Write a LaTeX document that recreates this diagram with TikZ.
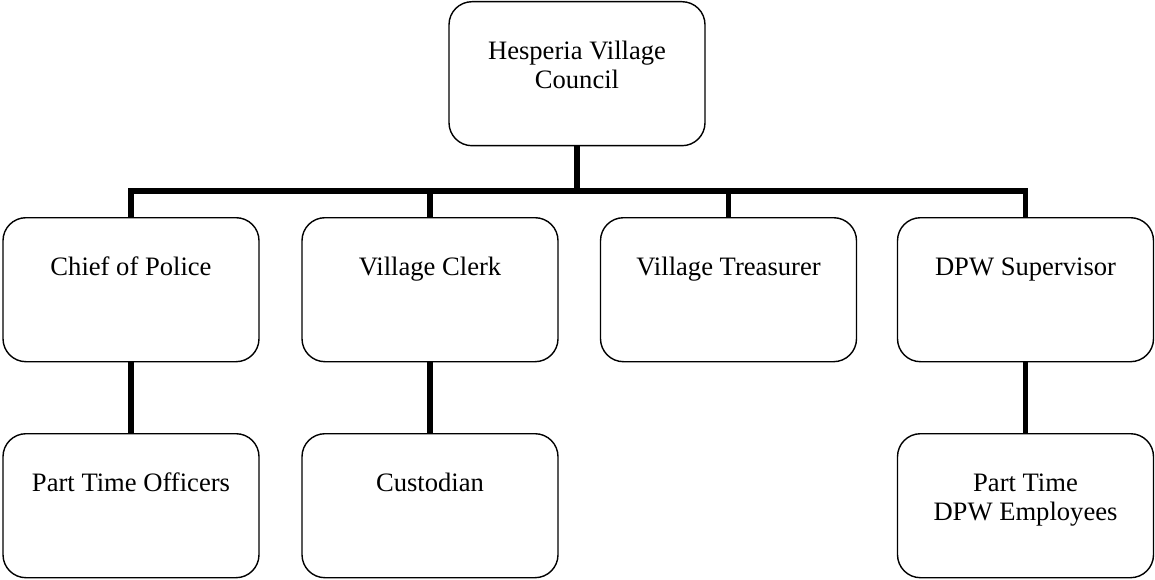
\documentclass[tikz,border=0pt]{standalone}
\usepackage{fontspec}
\setmainfont{Liberation Serif}
\begin{document}
\begin{tikzpicture}[x=1pt,y=-1pt,
  orgbox/.style={draw=black, line width=1.4pt, rounded corners=23pt,
    minimum width=256pt, inner xsep=0pt, inner ysep=0pt,
    text height=58pt, text depth=86pt, anchor=north,
    font=\fontsize{26.6}{29}\selectfont},
  conn/.style={line width=5.5pt, line join=miter}]
\useasboundingbox (0,0) rectangle (1155,580);
\newcommand{\lines}[1]{\begin{tabular}[t]{@{}c@{}}#1\end{tabular}}
\node[orgbox] (council) at (577,1) {\lines{Hesperia Village\\Council}};
\node[orgbox] (chief) at (131,217) {Chief of Police};
\node[orgbox] (clerk) at (430,217) {Village Clerk};
\node[orgbox] (treas) at (728.5,217) {Village Treasurer};
\node[orgbox] (dpw) at (1025.5,217) {DPW Supervisor};
\node[orgbox] (officers) at (131,433) {Part Time Officers};
\node[orgbox] (custod) at (430,433) {Custodian};
\node[orgbox] (dpwemp) at (1025.5,433) {\lines{Part Time\\DPW Employees}};
\coordinate (bus) at (0,191);
\draw[conn] (council.south) -- (council.south |- bus);
\draw[conn] (chief.north) -- (chief.north |- bus) -- (dpw.north |- bus) -- (dpw.north);
\draw[conn] (clerk.north |- bus) -- (clerk.north);
\draw[conn] (treas.north |- bus) -- (treas.north);
\draw[conn] (chief.south) -- (officers.north);
\draw[conn] (clerk.south) -- (custod.north);
\draw[conn] (dpw.south) -- (dpwemp.north);
\end{tikzpicture}
\end{document}
